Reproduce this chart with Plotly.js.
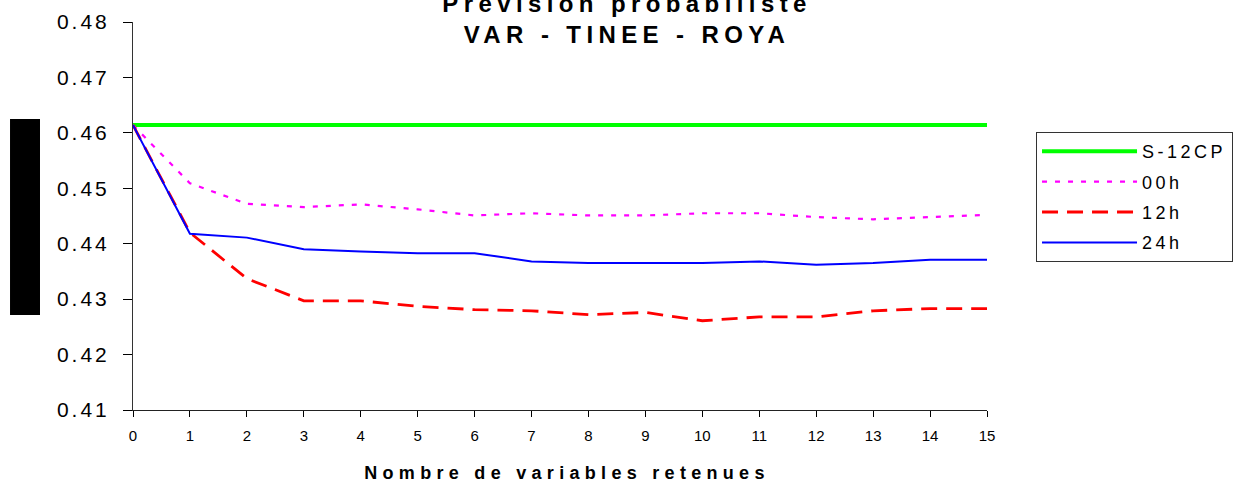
<!DOCTYPE html>
<html>
<head>
<meta charset="utf-8">
<script src="https://cdn.plot.ly/plotly-3.0.1.min.js"></script>
<style>
  html, body { margin: 0; padding: 0; background: #fff; }
  #chart { width: 1235px; height: 487px; }
  .gtitle { letter-spacing: 5.4px; }
  .xtitle { letter-spacing: 5.3px; transform: translateX(7px); }
  .ytick text { letter-spacing: 3px; }
  .legendtext { letter-spacing: 3.5px; }
</style>
</head>
<body>
<div id="chart"></div>
<script>
// ---- data ----
const nbVariables = [0, 1, 2, 3, 4, 5, 6, 7, 8, 9, 10, 11, 12, 13, 14, 15];
const seriesNames = ["S-12CP", "00h", "12h", "24h"];
const s12cp = [0.4614, 0.4614, 0.4614, 0.4614, 0.4614, 0.4614, 0.4614, 0.4614, 0.4614, 0.4614, 0.4614, 0.4614, 0.4614, 0.4614, 0.4614, 0.4614];
const h00   = [0.4614, 0.4509, 0.4472, 0.4466, 0.4471, 0.4462, 0.4451, 0.4455, 0.4451, 0.4451, 0.4455, 0.4455, 0.4448, 0.4444, 0.4448, 0.4452];
const h12   = [0.4614, 0.4420, 0.4337, 0.4297, 0.4297, 0.4287, 0.4281, 0.4279, 0.4272, 0.4276, 0.4261, 0.4268, 0.4268, 0.4279, 0.4283, 0.4283];
const h24   = [0.4614, 0.4418, 0.4411, 0.4390, 0.4386, 0.4383, 0.4383, 0.4368, 0.4365, 0.4365, 0.4365, 0.4368, 0.4362, 0.4365, 0.4371, 0.4371];
const yTicks = [0.41, 0.42, 0.43, 0.44, 0.45, 0.46, 0.47, 0.48];
const yTickLabels = ["0.41", "0.42", "0.43", "0.44", "0.45", "0.46", "0.47", "0.48"];
const titleText = "Prévision probabiliste<br>VAR - TINEE - ROYA";
const xTitleText = "Nombre de variables retenues";

const FONT = "Liberation Sans, Arial, sans-serif";

const traces = [
  { x: nbVariables, y: s12cp, name: seriesNames[0], legendgroup: "a", mode: "lines",
    line: { color: "#00FF00", width: 4 } },
  { x: nbVariables, y: h00, name: seriesNames[1], legendgroup: "b", mode: "lines",
    line: { color: "#FF00FF", width: 2.2, dash: "5px,8px" } },
  { x: nbVariables, y: h12, name: seriesNames[2], legendgroup: "c", mode: "lines",
    line: { color: "#FF0000", width: 2.8, dash: "16px,9px" } },
  { x: nbVariables, y: h24, name: seriesNames[3], legendgroup: "d", mode: "lines",
    line: { color: "#0000FF", width: 2 } }
];

const layout = {
  width: 1235, height: 487,
  margin: { l: 133, r: 248, t: 22, b: 77, autoexpand: false },
  paper_bgcolor: "#ffffff", plot_bgcolor: "#ffffff",
  font: { family: FONT, color: "#000" },
  showlegend: true,
  title: {
    text: titleText,
    font: { family: FONT, size: 24, weight: "bold", color: "#000" },
    x: 0.5077, xref: "container", xanchor: "center",
    y: 0.9757, yref: "container", yanchor: "bottom"
  },
  xaxis: {
    range: [0, 15], tickmode: "array", tickvals: nbVariables,
    ticks: "outside", ticklen: 6, tickcolor: "#000", tickwidth: 1,
    showline: true, linecolor: "#222", linewidth: 1,
    showgrid: false, zeroline: false,
    tickfont: { family: FONT, size: 15, color: "#000" },
    ticklabelstandoff: 6,
    title: { text: xTitleText, font: { family: FONT, size: 18, weight: "bold", color: "#000" }, standoff: 23 },
    automargin: false
  },
  xaxis2: {
    overlaying: "x", anchor: "y", side: "bottom",
    range: [0, 15], tickmode: "array", tickvals: nbVariables,
    ticks: "inside", ticklen: 6, tickcolor: "#000", tickwidth: 1,
    showticklabels: false, showline: false, showgrid: false, zeroline: false
  },
  yaxis: {
    range: [0.41, 0.48], tickmode: "array", tickvals: yTicks, ticktext: yTickLabels,
    ticks: "outside", ticklen: 9, tickcolor: "#000", tickwidth: 1,
    showline: true, linecolor: "#333", linewidth: 1,
    showgrid: false, zeroline: false,
    tickfont: { family: FONT, size: 21, color: "#000" },
    ticklabelstandoff: 9,
    automargin: false
  },
  yaxis2: {
    overlaying: "y", anchor: "x", side: "left",
    range: [0.41, 0.48], tickmode: "array", tickvals: yTicks,
    ticks: "inside", ticklen: 9, tickcolor: "#000", tickwidth: 1,
    showticklabels: false, showline: false, showgrid: false, zeroline: false
  },
  legend: {
    x: 1.0574, xanchor: "left", y: 0.7165, yanchor: "top",
    bordercolor: "#333", borderwidth: 1, bgcolor: "#fff",
    font: { family: FONT, size: 18, color: "#000" },
    itemwidth: 95, traceorder: "grouped", tracegroupgap: 4,
    entrywidth: 194
  },
  shapes: [
    { type: "rect", xref: "paper", yref: "paper",
      x0: -0.1440, x1: -0.1089, y0: 0.2449, y1: 0.75,
      fillcolor: "#000", line: { width: 0 } }
  ]
};

Plotly.newPlot("chart", traces, layout, { displayModeBar: false, staticPlot: true });
</script>
</body>
</html>
